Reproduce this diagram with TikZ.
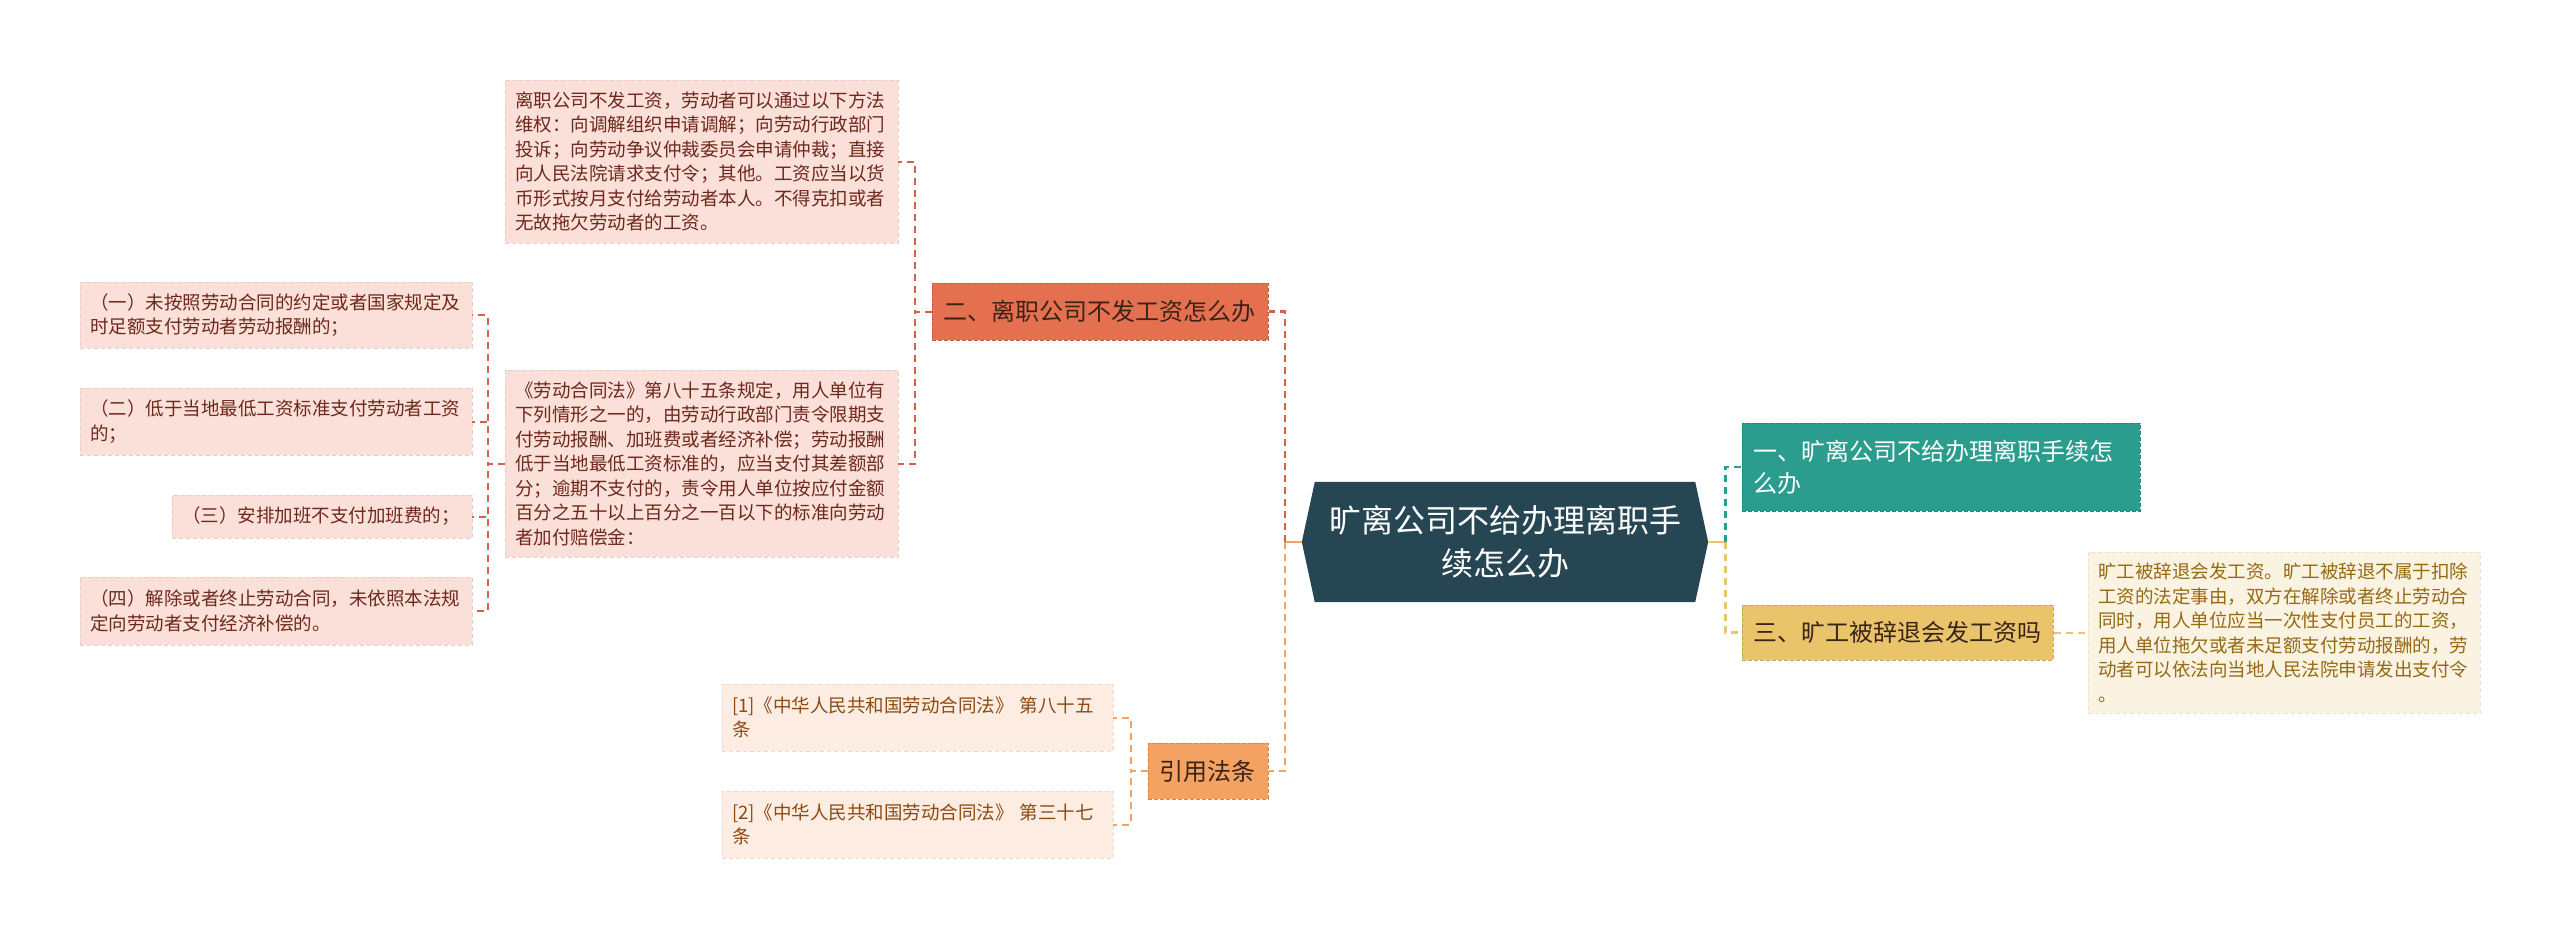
\documentclass[tikz,border=0pt]{standalone}
\usepackage{fontspec}
\setmainfont{Noto Sans CJK SC}
\definecolor{hubdark}{RGB}{38,70,83}
\definecolor{mmred}{RGB}{228,112,80}
\definecolor{mmredline}{RGB}{210,98,72}
\definecolor{mmpink}{RGB}{250,224,217}
\definecolor{mmpinktext}{RGB}{110,40,28}
\definecolor{mmteal}{RGB}{42,157,143}
\definecolor{mmyellow}{RGB}{233,196,106}
\definecolor{mmcream}{RGB}{251,243,225}
\definecolor{mmcreamtext}{RGB}{150,105,20}
\definecolor{mmorange}{RGB}{244,162,97}
\definecolor{mmpeach}{RGB}{253,236,225}
\definecolor{mmpeachtext}{RGB}{140,75,20}
\definecolor{mmdarktext}{RGB}{58,36,24}
\usetikzlibrary{backgrounds}
\tikzset{
  topic/.style={draw=#1!85!black, fill=#1, dash pattern=on 4pt off 2pt, line width=1pt,
    inner xsep=11pt, inner ysep=0pt, align=left, font=\fontsize{24}{32}\selectfont},
  leaf/.style={draw=#1!92!black, fill=#1, dash pattern=on 4pt off 3pt, line width=0.8pt,
    inner xsep=10pt, inner ysep=0pt, align=left, font=\fontsize{18.5}{24.5}\selectfont},
  link/.style={dash pattern=on 7pt off 5pt, line width=2.6pt},
  sublink/.style={dash pattern=on 7pt off 5pt, line width=2pt},
  stub/.style={line width=2.8pt}
}

\begin{document}
\begin{tikzpicture}[x=1pt, y=-1pt]
  \useasboundingbox (0,0) rectangle (2560,938);
  % Central hub
  \node[minimum width=406pt, minimum height=120pt, inner sep=0pt, align=center, text=white,
    font=\fontsize{32}{43}\selectfont] (hub) at (1505,542) {旷离公司不给办理离职手\\续怎么办};
  \begin{scope}[on background layer]
    \fill[hubdark] (hub.west) -- ([xshift=13pt]hub.north west) -- ([xshift=-13pt]hub.north east)
      -- (hub.east) -- ([xshift=-13pt]hub.south east) -- ([xshift=13pt]hub.south west) -- cycle;
  \end{scope}
  % Main topics
  \node[topic=mmred, text width=314pt, minimum height=57pt, text=mmdarktext] (n2) at (1100,311.5) {二、离职公司不发工资怎么办};
  \node[topic=mmorange, text width=98pt, minimum height=56pt, text=mmdarktext] (ref) at (1208,771) {引用法条};
  \node[topic=mmteal, text width=376pt, minimum height=88pt, text=white] (n1) at (1941,467) {一、旷离公司不给办理离职手续怎\\么办};
  \node[topic=mmyellow, text width=289pt, minimum height=55pt, text=mmdarktext] (n3) at (1897.5,632.5) {三、旷工被辞退会发工资吗};
  % Leaves of n2
  \node[leaf=mmpink, text width=373pt, minimum height=163pt, text=mmpinktext] (t1) at (701.5,161.5)
    {离职公司不发工资，劳动者可以通过以下方法\\维权：向调解组织申请调解；向劳动行政部门\\投诉；向劳动争议仲裁委员会申请仲裁；直接\\向人民法院请求支付令；其他。工资应当以货\\币形式按月支付给劳动者本人。不得克扣或者\\无故拖欠劳动者的工资。};
  \node[leaf=mmpink, text width=373pt, minimum height=187pt, text=mmpinktext] (t2) at (701.5,463.5)
    {《劳动合同法》第八十五条规定，用人单位有\\下列情形之一的，由劳动行政部门责令限期支\\付劳动报酬、加班费或者经济补偿；劳动报酬\\低于当地最低工资标准的，应当支付其差额部\\分；逾期不支付的，责令用人单位按应付金额\\百分之五十以上百分之一百以下的标准向劳动\\者加付赔偿金：};
  % Leaves of t2
  \node[leaf=mmpink, text width=372pt, minimum height=66pt, text=mmpinktext] (a1) at (276,315)
    {（一）未按照劳动合同的约定或者国家规定及\\时足额支付劳动者劳动报酬的；};
  \node[leaf=mmpink, text width=372pt, minimum height=67pt, text=mmpinktext] (a2) at (276,421.5)
    {（二）低于当地最低工资标准支付劳动者工资\\的；};
  \node[leaf=mmpink, text width=280pt, minimum height=43pt, text=mmpinktext] (a3) at (322,516.5)
    {（三）安排加班不支付加班费的；};
  \node[leaf=mmpink, text width=372pt, minimum height=68pt, text=mmpinktext] (a4) at (276,611)
    {（四）解除或者终止劳动合同，未依照本法规\\定向劳动者支付经济补偿的。};
  % Citations
  \node[leaf=mmpeach, text width=371pt, minimum height=67pt, text=mmpeachtext] (c1) at (917.5,717.5)
    {[1]《中华人民共和国劳动合同法》 第八十五\\条};
  \node[leaf=mmpeach, text width=371pt, minimum height=67pt, text=mmpeachtext] (c2) at (917.5,824.5)
    {[2]《中华人民共和国劳动合同法》 第三十七\\条};
  % Leaf of n3
  \node[leaf=mmcream, text width=372pt, minimum height=161pt, text=mmcreamtext] (r1) at (2284,632.5)
    {旷工被辞退会发工资。旷工被辞退不属于扣除\\工资的法定事由，双方在解除或者终止劳动合\\同时，用人单位应当一次性支付员工的工资，\\用人单位拖欠或者未足额支付劳动报酬的，劳\\动者可以依法向当地人民法院申请发出支付令\\。};
  % Connectors
  \draw[stub, mmorange] (hub.west) -- ++(-17,0) coordinate (jl);
  \draw[link, mmredline] (jl) |- (n2.east);
  \draw[link, mmorange] (jl) |- (ref.east);
  \draw[stub, mmyellow] (hub.east) -- ++(17,0) coordinate (jr);
  \draw[link, mmteal] (jr) |- (n1.west);
  \draw[link, mmyellow] (jr) |- (n3.west);
  \draw[sublink, mmredline] (n2.west) -- ++(-17,0) |- (t1.east);
  \draw[sublink, mmredline] (n2.west) -- ++(-17,0) |- (t2.east);
  \draw[sublink, mmredline] (t2.west) -- ++(-17,0) |- (a1.east);
  \draw[sublink, mmredline] (t2.west) -- ++(-17,0) |- (a2.east);
  \draw[sublink, mmredline] (t2.west) -- ++(-17,0) |- (a3.east);
  \draw[sublink, mmredline] (t2.west) -- ++(-17,0) |- (a4.east);
  \draw[sublink, mmorange] (ref.west) -- ++(-17,0) |- (c1.east);
  \draw[sublink, mmorange] (ref.west) -- ++(-17,0) |- (c2.east);
  \draw[sublink, mmyellow] (n3.east) -- (r1.west);
\end{tikzpicture}
\end{document}
